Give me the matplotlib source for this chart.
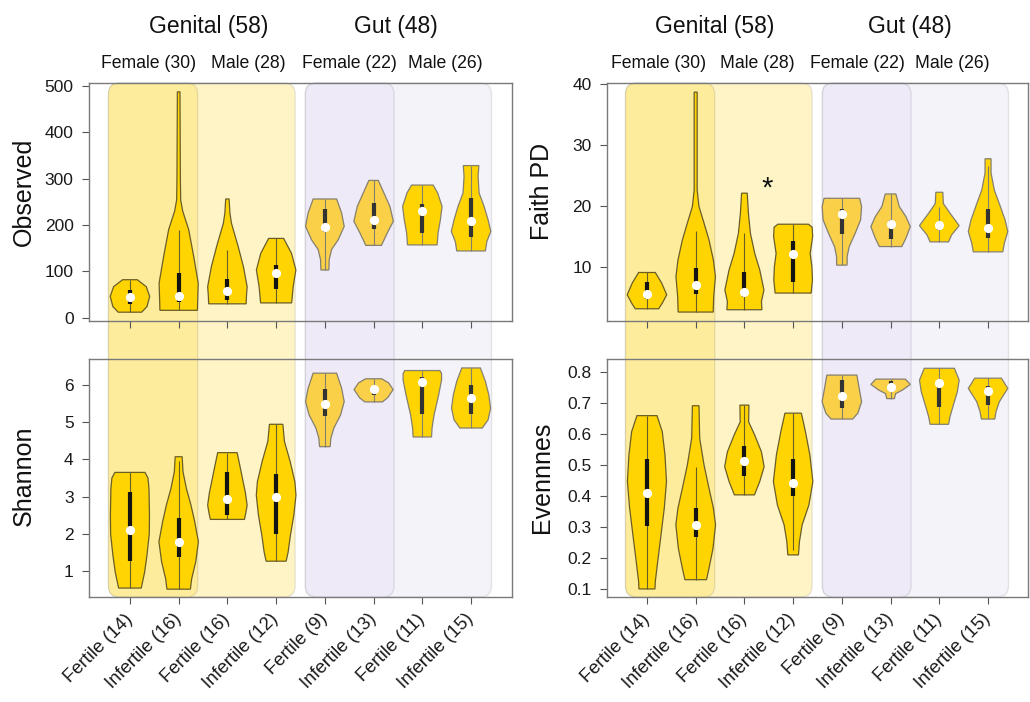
import matplotlib
matplotlib.use("Agg")
import matplotlib.pyplot as plt
from matplotlib.patches import Polygon, FancyBboxPatch
from matplotlib.transforms import IdentityTransform, ScaledTranslation

plt.rcParams['font.family'] = ['Liberation Sans', 'DejaVu Sans']

# ---------------- data ----------------
xlabels = ["Fertile (14)", "Infertile (16)", "Fertile (16)", "Infertile (12)",
           "Fertile (9)", "Infertile (13)", "Fertile (11)", "Infertile (15)"]
site_labels = ["Genital (58)", "Gut (48)"]
sex_labels = ["Female (30)", "Male (28)", "Female (22)", "Male (26)"]

# Observed
obs_lo = [12, 16, 30, 32, 103, 156, 157, 144]
obs_hi = [82, 487, 256, 171, 256, 296, 286, 328]
obs_q1 = [30, 35, 39, 62, 185, 192, 183, 175]
obs_med = [45, 47, 57, 96, 196, 210, 231, 208]
obs_q3 = [60, 97, 84, 113, 234, 247, 246, 258]
obs_whi = [82, 190, 146, 171, 256, 296, 286, 328]
obs_prof = [
    [(12, 11.7), (24, 17), (46, 19.7), (67, 16.3), (82, 7.3)],
    [(16, 18.7), (75, 19.5), (132, 15), (190, 10), (230, 4), (254, 2), (300, 1.7), (487, 1.3)],
    [(30, 18.7), (46, 19), (67, 19.7), (110, 16), (154, 10.7), (204, 4), (226, 2.5), (256, 1.7)],
    [(32, 15.5), (67, 17), (103, 19.7), (139, 15.3), (171, 7.5)],
    [(103, 4), (125, 4.3), (147, 6.7), (168, 13.3), (197, 19.3), (226, 16.7), (256, 11.7)],
    [(156, 7.8), (183, 13.7), (208, 19.7), (240, 16.3), (269, 10.3), (296, 4.7)],
    [(157, 14.8), (183, 15.7), (211, 18), (240, 19.7), (269, 15.3), (286, 10.8)],
    [(144, 14.3), (164, 15.7), (186, 19.7), (211, 17), (240, 13), (269, 8), (305, 7), (328, 7.8)],
]

# Shannon
sh_lo = [0.55, 0.52, 2.39, 1.27, 4.34, 5.54, 4.60, 4.84]
sh_hi = [3.65, 4.07, 4.18, 4.94, 6.31, 6.16, 6.38, 6.45]
sh_q1 = [1.27, 1.39, 2.51, 2.01, 5.15, 5.72, 5.21, 5.21]
sh_med = [2.11, 1.78, 2.94, 2.98, 5.48, 5.88, 6.07, 5.64]
sh_q3 = [3.12, 2.42, 3.65, 3.61, 5.88, 5.92, 6.22, 5.98]
sh_whi = [3.65, 3.95, 4.18, 4.94, 6.31, 6.16, 6.38, 6.45]
sh_prof = [
    [(0.55, 11.3), (0.98, 14.7), (1.43, 17), (2.0, 19.3), (2.5, 19.5), (3.22, 19), (3.5, 18), (3.65, 15)],
    [(0.52, 11.7), (0.8, 13), (1.25, 17), (1.79, 19.7), (2.33, 16), (2.77, 12.3), (3.22, 7.7), (3.67, 4.3), (4.07, 3.5)],
    [(2.39, 17), (2.55, 18.3), (2.77, 19.7), (3.1, 18), (3.40, 15.7), (3.85, 12.3), (4.18, 9.7)],
    [(1.27, 10), (1.52, 12), (1.97, 14.3), (2.51, 17.7), (3.04, 19.8), (3.40, 18.7), (3.94, 14), (4.48, 8.3), (4.94, 6.7)],
    [(4.34, 5.3), (4.57, 6), (4.84, 9), (5.19, 15.7), (5.55, 19.3), (5.91, 16.7), (6.31, 11.7)],
    [(5.54, 8.8), (5.65, 14), (5.87, 19.5), (6.05, 15), (6.16, 8)],
    [(4.60, 9.2), (4.84, 9.7), (5.19, 11.7), (5.73, 16.3), (6.13, 19.2), (6.30, 19.2), (6.38, 17.5)],
    [(4.84, 11.2), (5.06, 17), (5.37, 19.5), (5.73, 17.7), (6.09, 14.3), (6.45, 9.3)],
]

# Faith PD
fp_lo = [3.11, 2.57, 2.95, 5.69, 10.28, 13.33, 14.1, 12.46]
fp_hi = [9.07, 38.7, 22.1, 17.0, 21.26, 21.97, 22.25, 27.75]
fp_q1 = [4.70, 5.52, 5.03, 7.49, 15.4, 14.64, 16.07, 14.8]
fp_med = [5.46, 6.94, 5.85, 12.08, 18.6, 17.0, 16.8, 16.3]
fp_q3 = [7.43, 9.78, 9.23, 14.3, 19.46, 17.7, 17.4, 19.5]
fp_whi = [9.07, 15.95, 15.5, 17.0, 21.26, 21.97, 19.9, 26.6]
fp_prof = [
    [(3.11, 11.7), (4.04, 15.3), (5.41, 19.7), (7.33, 14.7), (9.07, 8.3)],
    [(2.57, 17.5), (5.13, 18), (8.4, 19.7), (11.1, 17.7), (14.4, 13.3), (17.2, 8.3), (19.9, 3.3), (22.6, 1.5), (38.7, 1.5)],
    [(2.95, 17.5), (4.31, 17), (6.2, 19.5), (9.5, 15.3), (12.2, 10.3), (15.5, 6), (18.8, 4), (22.1, 2.8)],
    [(5.69, 18), (7.87, 19.3), (10.05, 18.7), (12.2, 17), (15.0, 19.5), (16.5, 19), (17.0, 15.3)],
    [(10.28, 5.2), (11.7, 5.3), (13.3, 7.3), (15.5, 13.3), (17.7, 18.7), (19.9, 19.7), (21.26, 17.8)],
    [(13.33, 11.2), (14.7, 15.3), (16.6, 19.7), (18.25, 15.3), (19.9, 8.7), (21.97, 5.3)],
    [(14.1, 9.2), (15.25, 12.3), (16.77, 19.8), (18.8, 10.7), (20.4, 4), (22.25, 3.5)],
    [(12.46, 14.7), (13.9, 16.3), (15.8, 19.7), (17.7, 17), (19.9, 12.3), (22.6, 6.3), (25.4, 3), (27.75, 3)],
]

# Evenness
ev_lo = [0.099, 0.129, 0.403, 0.209, 0.648, 0.714, 0.631, 0.648]
ev_hi = [0.659, 0.691, 0.693, 0.667, 0.790, 0.777, 0.812, 0.780]
ev_q1 = [0.302, 0.266, 0.464, 0.400, 0.685, 0.747, 0.686, 0.693]
ev_med = [0.408, 0.306, 0.512, 0.440, 0.722, 0.752, 0.763, 0.740]
ev_q3 = [0.519, 0.360, 0.562, 0.519, 0.774, 0.771, 0.774, 0.755]
ev_whi = [0.659, 0.494, 0.693, 0.667, 0.790, 0.777, 0.812, 0.780]
ev_wlo = [0.099, 0.129, 0.403, 0.225, 0.648, 0.714, 0.631, 0.648]
ev_prof = [
    [(0.099, 8), (0.122, 8.3), (0.187, 10.7), (0.273, 14), (0.36, 17.3), (0.446, 19.5), (0.532, 18), (0.607, 15.3), (0.659, 10)],
    [(0.129, 10.8), (0.166, 13.3), (0.23, 17.3), (0.306, 19.8), (0.36, 17.7), (0.424, 13.3), (0.50, 8.3), (0.586, 4), (0.691, 3.3)],
    [(0.403, 10), (0.446, 15.3), (0.494, 19.7), (0.542, 17), (0.596, 10.3), (0.639, 4.2), (0.693, 4.5)],
    [(0.209, 5.3), (0.252, 6.3), (0.306, 9), (0.37, 15.7), (0.446, 19.7), (0.532, 16.7), (0.607, 12.3), (0.667, 8.2)],
    [(0.648, 10.8), (0.667, 16), (0.704, 19.7), (0.747, 17.3), (0.79, 15)],
    [(0.714, 3.8), (0.73, 5), (0.742, 12), (0.76, 19.7), (0.777, 14.7)],
    [(0.631, 9.2), (0.656, 10.7), (0.693, 14), (0.736, 18), (0.774, 19.8), (0.812, 15)],
    [(0.648, 6.7), (0.672, 8), (0.704, 11.3), (0.747, 19.7), (0.78, 13.3)],
]

positions = [1, 2, 3, 4, 5, 6, 7, 8]

# ---------------- style ----------------
W, H = 1030, 702
fig = plt.figure(figsize=(W / 100, H / 100), dpi=100)

def frac(x0, y0, x1, y1):
    return [x0 / W, 1 - y1 / H, (x1 - x0) / W, (y1 - y0) / H]

ax_obs = fig.add_axes(frac(89, 83, 512, 321))
ax_sh = fig.add_axes(frac(89, 359, 512, 597))
ax_fp = fig.add_axes(frac(607, 83, 1028, 321))
ax_ev = fig.add_axes(frac(607, 359, 1028, 597))

fill_cols = ['#FFD400'] * 4 + ['#F9D048'] * 2 + ['#FFD400'] * 2
edge_cols = ['#6a5e28'] * 4 + ['#85806e'] * 4
box_cols = ['#141414'] * 4 + ['#333333'] * 4
scale = 0.405 / 19.7
spine_col = '#7a7a7a'
label_shift = ScaledTranslation(0.06, -0.12, fig.dpi_scale_trans)


def draw_panel(ax, lo, hi, q1, med, q3, whi, prof, wlo, yticks, ylim, xlim, show_x):
    ax.set_facecolor('none')
    for i, p in enumerate(positions):
        ys = [v for v, w in prof[i]]
        ws = [w * scale for v, w in prof[i]]
        left = [(p - w, y) for y, w in zip(ys, ws)]
        right = [(p + w, y) for y, w in zip(ys, ws)][::-1]
        poly = Polygon(left + right, closed=True, facecolor=fill_cols[i],
                       edgecolor=edge_cols[i], lw=0.9, zorder=2)
        ax.add_patch(poly)
        ax.plot([p, p], [wlo[i], whi[i]], color=edge_cols[i], lw=0.8, zorder=3,
                solid_capstyle='butt')
        ax.plot([p, p], [q1[i], q3[i]], color=box_cols[i], lw=3.0, zorder=4,
                solid_capstyle='butt')
        ax.plot([p], [med[i]], 'o', ms=5.6, mfc='white', mec='white', zorder=5)
    ax.set_xlim(*xlim)
    ax.set_ylim(*ylim)
    ax.set_yticks(yticks)
    ax.set_xticks(positions)
    if show_x:
        ax.set_xticklabels(xlabels, rotation=45, ha='right', va='center',
                           rotation_mode='anchor', fontsize=13.3)
        for lab in ax.get_xticklabels():
            lab.set_transform(lab.get_transform() + label_shift)
    else:
        ax.set_xticklabels([])
    ax.tick_params(axis='both', direction='out', length=5, width=0.8,
                   color='#555555', labelsize=12.5, labelcolor='#1a1a1a', pad=6)
    ax.tick_params(axis='x', pad=9, labelsize=13.3)
    for s in ax.spines.values():
        s.set_color(spine_col)
        s.set_linewidth(1.0)
    ax.set_zorder(1)


draw_panel(ax_obs, obs_lo, obs_hi, obs_q1, obs_med, obs_q3, obs_whi, obs_prof, obs_lo,
           [0, 100, 200, 300, 400, 500], (-7, 506), (0.16, 8.84), False)
draw_panel(ax_sh, sh_lo, sh_hi, sh_q1, sh_med, sh_q3, sh_whi, sh_prof, sh_lo,
           [1, 2, 3, 4, 5, 6], (0.31, 6.69), (0.16, 8.84), True)
draw_panel(ax_fp, fp_lo, fp_hi, fp_q1, fp_med, fp_q3, fp_whi, fp_prof, fp_lo,
           [10, 20, 30, 40], (1.1, 40.2), (0.18, 8.82), False)
draw_panel(ax_ev, ev_lo, ev_hi, ev_q1, ev_med, ev_q3, ev_whi, ev_prof, ev_wlo,
           [0.1, 0.2, 0.3, 0.4, 0.5, 0.6, 0.7, 0.8], (0.073, 0.842), (0.18, 8.82), True)

ax_fp.text(3.46, 22.8, "*", fontsize=21, ha='center', va='center', color='#111111')

# ---------------- background group boxes ----------------
# x-extents in data units: (start, end, colour)
group_spans = [(0.56, 4.39, '#FEF4C6'), (0.56, 2.39, '#FDEC9C'),
               (4.60, 8.42, '#F4F3FA'), (4.60, 6.42, '#EFEAF8')]
for ax_t, ax_b in [(ax_obs, ax_sh), (ax_fp, ax_ev)]:
    y_top = ax_t.bbox.y1
    y_bot = ax_b.bbox.y0
    for x0, x1, col in group_spans:
        px0 = ax_t.transData.transform((x0, 0))[0]
        px1 = ax_t.transData.transform((x1, 0))[0]
        patch = FancyBboxPatch((px0, y_bot), px1 - px0, y_top - y_bot,
                               boxstyle="round,pad=0,rounding_size=11",
                               transform=IdentityTransform(), facecolor=col,
                               edgecolor=(0, 0, 0, 0.09), lw=1.0, zorder=-1)
        fig.add_artist(patch)

# ---------------- texts ----------------
def ftext(px, py, s, **kw):
    fig.text(px / W, 1 - py / H, s, **kw)

site_pos = {'left': [(209, site_labels[0]), (396, site_labels[1])],
            'right': [(715, site_labels[0]), (910, site_labels[1])]}
sex_pos = {'left': [149, 248, 349, 445], 'right': [659, 757, 857, 952]}
for side in ['left', 'right']:
    for px, s in site_pos[side]:
        ftext(px, 27, s, fontsize=16.5, ha='center', va='center', color='#111111')
    for px, s in zip(sex_pos[side], sex_labels):
        ftext(px, 64, s, fontsize=12.7, ha='center', va='center', color='#111111')

ftext(24, 192, "Observed", fontsize=18, rotation=90, ha='center', va='center', color='#111111')
ftext(24, 476, "Shannon", fontsize=18, rotation=90, ha='center', va='center', color='#111111')
ftext(542, 191, "Faith PD", fontsize=18, rotation=90, ha='center', va='center', color='#111111')
ftext(542, 477, "Evennnes", fontsize=18, rotation=90, ha='center', va='center', color='#111111')

fig.savefig("out.png", dpi=100)
